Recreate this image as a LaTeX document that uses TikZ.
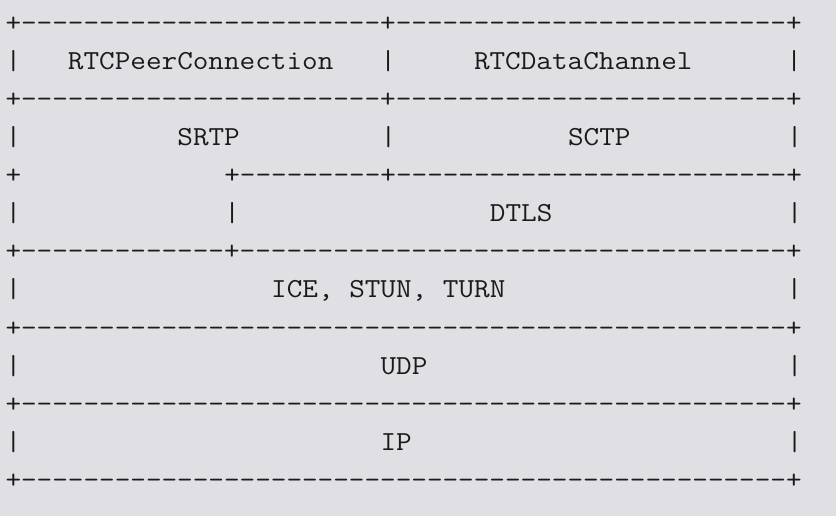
\documentclass[tikz,border=0pt]{standalone}
\usepackage{graphicx}
\definecolor{bgc}{HTML}{E0DFE4}
\definecolor{ink}{HTML}{1A1A1A}
\newlength\charw
\setlength\charw{14.1797pt}
\newcommand\mono{\ttfamily\fontsize{27.5pt}{38.1pt}\selectfont}
\newcommand\bl[1]{\hspace*{#1\charw}}
\newcommand\dl[1]{\foreach\i in{1,...,#1}{-}}
\newcommand\rowtext[1]{\scalebox{1.1023}[1]{#1}}
\begin{document}
\begin{tikzpicture}[x=1pt,y=-1pt,
  asciirow/.style={anchor=base west, inner sep=0pt, outer sep=0pt, text=ink, font=\mono}]
\fill[bgc] (0,0) rectangle (836,516);
\useasboundingbox (0,0) rectangle (836,516);
\node[asciirow] (l1)  at (5.5,  31.2) {\rowtext{+\dl{23}+\dl{25}+}};
\node[asciirow] (l2)  at (5.5,  69.3) {\rowtext{|\bl{3}RTCPeerConnection\bl{3}|\bl{5}RTCDataChannel\bl{6}|}};
\node[asciirow] (l3)  at (5.5, 107.4) {\rowtext{+\dl{23}+\dl{25}+}};
\node[asciirow] (l4)  at (5.5, 145.5) {\rowtext{|\bl{10}SRTP\bl{9}|\bl{11}SCTP\bl{10}|}};
\node[asciirow] (l5)  at (5.5, 183.6) {\rowtext{+\bl{13}+\dl{9}+\dl{25}+}};
\node[asciirow] (l6)  at (5.5, 221.7) {\rowtext{|\bl{13}|\bl{16}DTLS\bl{15}|}};
\node[asciirow] (l7)  at (5.5, 259.8) {\rowtext{+\dl{13}+\dl{35}+}};
\node[asciirow] (l8)  at (5.5, 297.9) {\rowtext{|\bl{16}ICE,\bl{1}STUN,\bl{1}TURN\bl{18}|}};
\node[asciirow] (l9)  at (5.5, 336.0) {\rowtext{+\dl{49}+}};
\node[asciirow] (l10) at (5.5, 374.1) {\rowtext{|\bl{23}UDP\bl{23}|}};
\node[asciirow] (l11) at (5.5, 412.2) {\rowtext{+\dl{49}+}};
\node[asciirow] (l12) at (5.5, 450.3) {\rowtext{|\bl{23}IP\bl{24}|}};
\node[asciirow] (l13) at (5.5, 488.4) {\rowtext{+\dl{49}+}};
\end{tikzpicture}
\end{document}
